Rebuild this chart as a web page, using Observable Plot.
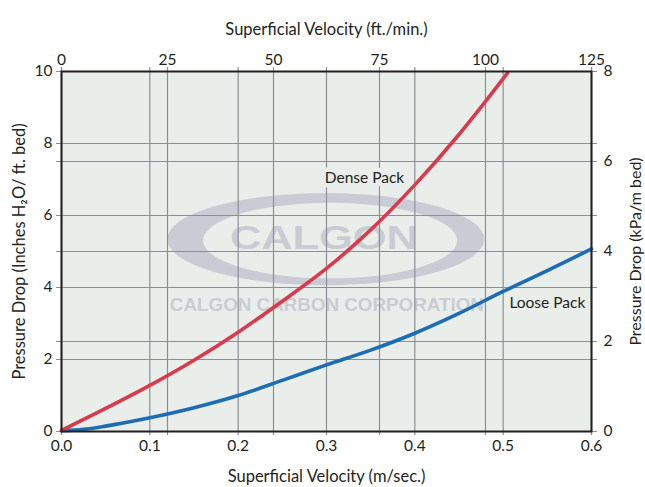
<!DOCTYPE html>
<html><head><meta charset="utf-8">
<script src="https://cdn.jsdelivr.net/npm/d3@7"></script>
<script src="https://cdn.jsdelivr.net/npm/@observablehq/plot@0.6"></script>
<style>body{margin:0;background:#fff}</style>
</head><body><div id="chart"></div>
<script>
// Dense Pack curve (velocity m/s, pressure drop in H2O / ft bed)
const denseV = [0, 0.05, 0.1, 0.15, 0.2, 0.25, 0.3, 0.35, 0.4, 0.45, 0.5, 0.505];
const denseP = [0.03, 0.64, 1.28, 1.98, 2.76, 3.62, 4.53, 5.6, 6.85, 8.25, 9.8, 9.96];
// Loose Pack curve
const looseV = [0, 0.025, 0.05, 0.1, 0.15, 0.2, 0.25, 0.3, 0.35, 0.4, 0.45, 0.5, 0.55, 0.6];
const looseP = [0.02, 0.06, 0.15, 0.38, 0.66, 1.0, 1.42, 1.85, 2.26, 2.73, 3.28, 3.89, 4.47, 5.07];
// axes
const bottomTicks = [0, 0.1, 0.2, 0.3, 0.4, 0.5, 0.6];     // m/sec
const topTicks = [0, 25, 50, 75, 100, 125];                // ft./min.
const leftTicks = [0, 2, 4, 6, 8, 10];                     // in H2O / ft
const rightTicks = [0, 2, 4, 6, 8];                        // kPa/m
const seriesNames = ["Dense Pack", "Loose Pack"];
const labelV = [0.343, 0.55];
const labelP = [7.03, 3.58];

const X_MAX = 0.6, TOP_MAX = 125, Y_MAX = 10, RIGHT_MAX = 8;
const topPos = topTicks.map(t => t / TOP_MAX * X_MAX);
const rightPos = rightTicks.map(k => k / RIGHT_MAX * Y_MAX);

const BG = "#e9eeea", GRID = "#8b9096", INK = "#231f20";
const RED = "#da3a4b", BLUE = "#1d6db6";

const dense = denseV.map((v, i) => ({v, p: denseP[i]}));
const loose = looseV.map((v, i) => ({v, p: looseP[i]}));
const labels = seriesNames.map((name, i) => ({name, v: labelV[i], p: labelP[i]}));

const chart = Plot.plot({
  width: 645,
  height: 487,
  marginLeft: 61,
  marginRight: 54,
  marginTop: 71,
  marginBottom: 56,
  style: {fontFamily: "Lato, 'Open Sans', sans-serif", fontSize: "15px", color: INK, background: "white"},
  x: {domain: [0, X_MAX]},
  y: {domain: [0, Y_MAX]},
  marks: [
    Plot.frame({fill: BG}),
    Plot.ruleX([...bottomTicks, ...topPos], {stroke: GRID, strokeWidth: 1.2, insetTop: -4, insetBottom: -4}),
    Plot.ruleY([...leftTicks, ...rightPos], {stroke: GRID, strokeWidth: 1.2, insetLeft: -5, insetRight: -6}),
    Plot.line(loose, {x: "v", y: "p", stroke: BLUE, strokeWidth: 3.6, curve: "monotone-x"}),
    Plot.line(dense, {x: "v", y: "p", stroke: RED, strokeWidth: 3.6, curve: "monotone-x"}),
    Plot.frame({stroke: INK, strokeWidth: 2}),
    Plot.axisX({ticks: bottomTicks, anchor: "bottom", tickSize: 0, tickPadding: 8, tickFormat: d3.format(".1f"), label: null, fontSize: 15.5}),
    Plot.axisX({ticks: topPos, anchor: "top", tickSize: 0, tickPadding: 7, tickFormat: d => Math.round(d / X_MAX * TOP_MAX), label: null, fontSize: 15.5}),
    Plot.axisY({ticks: leftTicks, anchor: "left", tickSize: 0, tickPadding: 9, label: null, fontSize: 15.5}),
    Plot.axisY({ticks: rightPos, anchor: "right", tickSize: 0, tickPadding: 12, tickFormat: d => Math.round(d / Y_MAX * RIGHT_MAX), label: null, fontSize: 15.5}),
    Plot.text(labels, {x: "v", y: "p", text: "name", fill: INK, fontSize: 15.5, stroke: BG, strokeWidth: 9}),
    Plot.text(["Superficial Velocity (ft./min.)"], {frameAnchor: "top", dy: -48, fontSize: 16.5, fill: INK}),
    Plot.text(["Superficial Velocity (m/sec.)"], {frameAnchor: "bottom", dy: 50, fontSize: 16.5, fill: INK}),
    Plot.text(["Pressure Drop (Inches H₂O/ ft. bed)"], {frameAnchor: "left", dx: -42, rotate: -90, textAnchor: "middle", fontSize: 16.5, fill: INK}),
    Plot.text(["Pressure Drop (kPa/m bed)"], {frameAnchor: "right", dx: 44, rotate: -90, textAnchor: "middle", fontSize: 16, fill: INK})
  ]
});

// watermark (decoration) inserted just above the background frame
const sx = chart.scale("x"), sy = chart.scale("y");
const ns = "http://www.w3.org/2000/svg";
const bgFrame = chart.querySelector('[aria-label="frame"]');
const wm = document.createElementNS(ns, "g");
const WM = "#c9ccd4";
function el(tag, attrs, text) {
  const e = document.createElementNS(ns, tag);
  for (const k in attrs) e.setAttribute(k, attrs[k]);
  if (text) e.textContent = text;
  wm.appendChild(e);
  return e;
}
const pxX = v => sx.apply(v), pxY = p => sy.apply(p);
const kx = (pxX(0.6) - pxX(0)) / 0.6, ky = (pxY(0) - pxY(10)) / 10;
el("ellipse", {cx: pxX(0.2997), cy: pxY(5.33), rx: 0.1795 * kx, ry: 1.28 * ky, fill: WM});
el("ellipse", {cx: pxX(0.3046), cy: pxY(5.29), rx: 0.1438 * kx, ry: 1.05 * ky, fill: BG});
el("text", {x: pxX(0.2977), y: pxY(5.06), "text-anchor": "middle", "font-family": "'Liberation Sans', Arial, sans-serif", "font-weight": "bold", "font-size": 33.5, textLength: 188, lengthAdjust: "spacingAndGlyphs", fill: WM}, "CALGON");
el("text", {x: pxX(0.301), y: pxY(3.34), "text-anchor": "middle", "font-family": "'Liberation Sans', Arial, sans-serif", "font-weight": "bold", "font-size": 17.5, textLength: 314, lengthAdjust: "spacingAndGlyphs", fill: WM}, "CALGON CARBON CORPORATION");
bgFrame.parentNode.insertBefore(wm, bgFrame.nextSibling);

document.getElementById("chart").appendChild(chart);
</script>
</body></html>
